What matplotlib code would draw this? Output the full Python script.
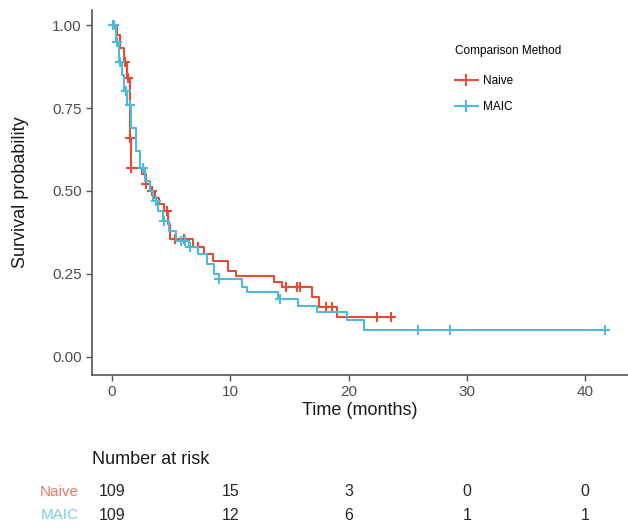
import numpy as np
import matplotlib
matplotlib.use('Agg')
import matplotlib.pyplot as plt
from matplotlib.lines import Line2D

plt.rcParams['font.family'] = ['Liberation Sans', 'DejaVu Sans']

# Kaplan-Meier step data
naive_times = [0, 0.4, 0.7, 1.0, 1.3, 1.5, 1.6, 2.5, 2.9, 3.2, 3.6, 4.0, 4.4, 4.7, 4.9,
               6.8, 7.8, 8.5, 9.8, 10.5, 13.7, 14.4, 16.9, 17.5, 19.0]
naive_surv = [1.0, 0.97, 0.93, 0.89, 0.84, 0.66, 0.57, 0.55, 0.52, 0.50, 0.48, 0.46, 0.44,
              0.40, 0.355, 0.33, 0.31, 0.29, 0.26, 0.245, 0.225, 0.21, 0.18, 0.15, 0.12]
naive_end = 23.8
naive_cens = [1.1, 1.35, 1.55, 1.6, 2.9, 3.4, 4.6, 5.3, 6.1, 7.3, 14.7, 15.6, 15.9,
              18.1, 18.6, 22.4, 23.6]

maic_times = [0, 0.3, 0.6, 0.8, 1.0, 1.3, 1.6, 2.0, 2.4, 2.8, 3.2, 3.5, 3.9, 4.3, 4.8,
              5.4, 6.5, 7.3, 8.0, 8.6, 9.0, 11.0, 11.4, 14.0, 15.7, 17.3, 19.9, 21.3]
maic_surv = [1.0, 0.95, 0.89, 0.85, 0.80, 0.76, 0.69, 0.62, 0.57, 0.53, 0.50, 0.47, 0.44,
             0.41, 0.38, 0.35, 0.33, 0.31, 0.28, 0.25, 0.235, 0.21, 0.195, 0.175, 0.155,
             0.135, 0.11, 0.08]
maic_end = 41.7
maic_cens = [0.1, 0.2, 0.4, 0.7, 1.2, 1.5, 2.6, 3.7, 4.4, 5.8, 6.2, 6.6, 9.0, 14.2,
             25.9, 28.6, 41.7]

risk_times = [0, 10, 20, 30, 40]
naive_risk = [109, 15, 3, 0, 0]
maic_risk = [109, 12, 6, 1, 1]

red = '#E64B35'
blue = '#4DBBD5'

fig = plt.figure(figsize=(6.28, 5.31), dpi=100)
ax = fig.add_axes([0.1465, 0.294, 0.853, 0.687])


def km(ax, times, surv, end, cens, color):
    t = list(times) + [end]
    s = list(surv) + [surv[-1]]
    ax.step(t, s, where='post', color=color, lw=1.5)
    idx = np.searchsorted(times, cens, side='right') - 1
    ax.plot(cens, np.array(surv)[idx], ls='none', marker='+', ms=7.5, mew=1.5, color=color)


km(ax, naive_times, naive_surv, naive_end, naive_cens, red)
km(ax, maic_times, maic_surv, maic_end, maic_cens, blue)

ax.set_xlim(-1.7, 43.6)
ax.set_ylim(-0.054, 1.045)
ax.set_xticks(risk_times)
ax.set_yticks([0, 0.25, 0.5, 0.75, 1.0])
ax.set_yticklabels(['0.00', '0.25', '0.50', '0.75', '1.00'])
for sp in ['top', 'right']:
    ax.spines[sp].set_visible(False)
for sp in ['left', 'bottom']:
    ax.spines[sp].set_color('#555555')
    ax.spines[sp].set_linewidth(1.2)
ax.tick_params(colors='#555555', labelcolor='#4D4D4D', labelsize=11, length=4, width=1)
ax.set_xlabel('Time (months)', fontsize=13, color='#1a1a1a', labelpad=2)
ax.set_ylabel('Survival probability', fontsize=13, color='#1a1a1a')
ax.yaxis.set_label_coords(-0.118, 0.5)

handles = [Line2D([], [], color=red, lw=1.5, marker='+', ms=8, mew=1.5),
           Line2D([], [], color=blue, lw=1.5, marker='+', ms=8, mew=1.5)]
leg = ax.legend(handles, ['Naive', 'MAIC'], title='Comparison Method', loc='upper left',
                bbox_to_anchor=(0.658, 0.933), frameon=False, fontsize=8.5,
                title_fontsize=8.5, handlelength=1.9, handletextpad=0.5,
                labelspacing=1.2)
leg._legend_box.align = 'left'
leg._legend_box.sep = 13

# number at risk table
ax2 = fig.add_axes([0.1465, 0.0, 0.853, 0.2])
ax2.set_xlim(ax.get_xlim())
ax2.set_ylim(0, 1)
ax2.axis('off')
ax2.text(-1.7, 0.67, 'Number at risk', fontsize=13, color='#1a1a1a', va='center', ha='left')
rows = [('Naive', naive_risk, red, 0.37), ('MAIC', maic_risk, blue, 0.15)]
for name, vals, col, yy in rows:
    ax2.text(-2.8, yy, name, color=col, alpha=0.75, fontsize=11, ha='right', va='center',
             clip_on=False)
    for t, v in zip(risk_times, vals):
        ax2.text(t, yy, str(v), fontsize=11.5, color='#262626', ha='center', va='center')

fig.savefig('out.png', dpi=100)
